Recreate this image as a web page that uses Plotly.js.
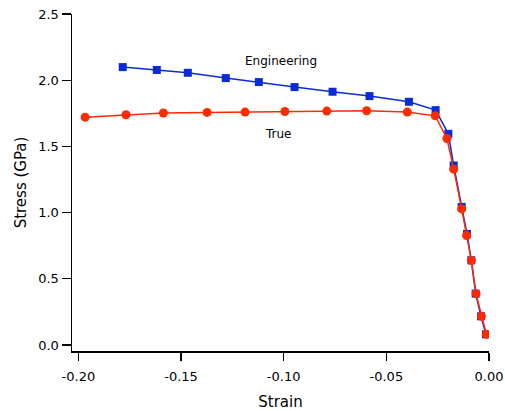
<!DOCTYPE html>
<html><head><meta charset="utf-8">
<script src="https://cdn.plot.ly/plotly-3.0.1.min.js"></script>
<style>html,body{margin:0;padding:0;background:#fff}#chart{width:505px;height:411px}</style>
</head><body><div id="chart"></div>
<script>
const engStrain = [-0.1784,-0.1618,-0.1467,-0.1282,-0.1121,-0.0947,-0.0762,-0.0582,-0.0390,-0.0260,-0.0198,-0.0172,-0.0133,-0.0107,-0.0086,-0.0065,-0.0039,-0.0015];
const engStress = [2.099,2.077,2.056,2.016,1.986,1.948,1.913,1.880,1.837,1.774,1.595,1.356,1.043,0.839,0.640,0.388,0.217,0.081];
const trueStrain = [-0.1967,-0.1768,-0.1586,-0.1373,-0.1188,-0.0994,-0.0790,-0.0596,-0.0398,-0.0262,-0.0205,-0.0172,-0.0133,-0.0109,-0.0086,-0.0063,-0.0037,-0.0013];
const trueStress = [1.721,1.739,1.752,1.757,1.759,1.764,1.767,1.769,1.759,1.731,1.560,1.328,1.028,0.827,0.638,0.388,0.217,0.081];
const xTicks = [-0.20,-0.15,-0.10,-0.05,0.00];
const xTickLabels = ["-0.20","-0.15","-0.10","-0.05","0.00"];
const yTicks = [0,0.5,1.0,1.5,2.0,2.5];
const yTickLabels = ["0.0","0.5","1.0","1.5","2.0","2.5"];
const seriesLabels = ["Engineering","True"];
const labelX = [-0.1014,-0.1025];
const labelY = [2.142,1.593];

const font = "DejaVu Sans, sans-serif";
const traces = [
  {x: engStrain, y: engStress, type:'scatter', mode:'lines+markers', name: seriesLabels[0],
   line:{color:'#0a2bd8', width:1.5}, marker:{symbol:'square', size:8, color:'#0a2bd8'}},
  {x: trueStrain, y: trueStress, type:'scatter', mode:'lines+markers', name: seriesLabels[1],
   line:{color:'#ff2a00', width:1.5}, marker:{symbol:'circle', size:9, color:'#ff2a00'}}
];
const layout = {
  width:505, height:411,
  margin:{l:72, r:16, t:14, b:60, pad:0},
  paper_bgcolor:'#fff', plot_bgcolor:'#fff',
  showlegend:false,
  font:{family:font, color:'#000', size:13},
  xaxis:{range:[-0.2031,0], tickvals:xTicks, ticktext:xTickLabels, showgrid:false, zeroline:false,
    showline:true, linecolor:'#000', linewidth:1.5, ticks:'outside', ticklen:8, tickwidth:1.2, tickcolor:'#000',
    tickfont:{family:font, size:13}, ticklabelstandoff:5,
    title:{text:'Strain', font:{family:font, size:15}, standoff:14}},
  yaxis:{range:[-0.045,2.5], tickvals:yTicks, ticktext:yTickLabels, showgrid:false, zeroline:false,
    showline:true, linecolor:'#000', linewidth:1.5, ticks:'outside', ticklen:9, tickwidth:1.2, tickcolor:'#000',
    tickfont:{family:font, size:13},
    title:{text:'Stress (GPa)', font:{family:font, size:15}, standoff:8}},
  annotations:[
    {x: labelX[0], y: labelY[0], xref:'x', yref:'y', text: seriesLabels[0], showarrow:false, font:{family:font, size:12}},
    {x: labelX[1], y: labelY[1], xref:'x', yref:'y', text: seriesLabels[1], showarrow:false, font:{family:font, size:12}}
  ]
};
Plotly.newPlot('chart', traces, layout, {staticPlot:true, displayModeBar:false});
</script></body></html>
